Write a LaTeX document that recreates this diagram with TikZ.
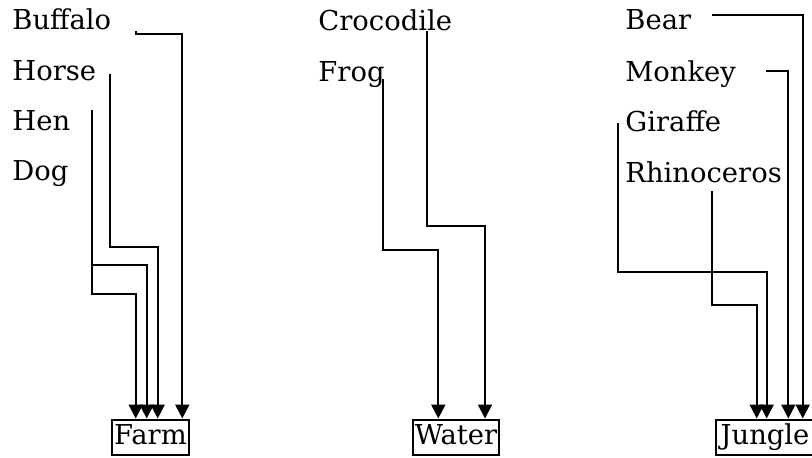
\documentclass[tikz,border=0pt]{standalone}
\usepackage{fontspec}
\setmainfont{DejaVu Serif}
\usetikzlibrary{arrows.meta}

\tikzset{
	animal/.style={anchor=base west, inner sep=0pt, font=\fontsize{13.7}{15}\selectfont},
	habitat/.style={draw, line width=1pt, inner xsep=1pt, inner ysep=0pt, minimum height=17.5pt, text height=10.2pt, text depth=3.1pt, font=\fontsize{13.7}{15}\selectfont},
	link/.style={line width=1pt, -{Triangle[width=7pt,length=7pt]}}
}

\begin{document}
\begin{tikzpicture}[x=0.5pt,y=-0.5pt]
	\useasboundingbox (0,0) rectangle (812,457);
	
	% animals
	\node[animal] (buffalo) at (12,29) {Buffalo};
	\node[animal] (horse) at (12,80) {Horse};
	\node[animal] (hen) at (12,130) {Hen};
	\node[animal] (dog) at (12,180) {Dog};
	
	\node[animal] (crocodile) at (318,30) {Crocodile};
	\node[animal] (frog) at (318,81) {Frog};
	
	\node[animal] (bear) at (625,29) {Bear};
	\node[animal] (monkey) at (625,81) {Monkey};
	\node[animal] (giraffe) at (625,131) {Giraffe};
	\node[animal] (rhino) at (625,182) {Rhinoceros};
	
	% habitats
	\node[habitat] (farm) at (150.5,437) {Farm};
	\node[habitat] (water) at (456,437) {Water};
	\node[habitat, inner xsep=2.5pt] (jungle) at (765,437) {Jungle};
	
	% start points of the lines
	\coordinate (sbuffalo) at (136,31);
	\coordinate (shorse) at (110,74);
	\coordinate (shen) at (92,110);
	\coordinate (sdog) at (92,160);
	\coordinate (scroc) at (427.3,31);
	\coordinate (sfrog) at (382.5,79);
	\coordinate (sbear) at (711.7,15);
	\coordinate (smonkey) at (765.7,71);
	\coordinate (sgiraffe) at (618,123);
	\coordinate (srhino) at (711.7,191);
	
	% farm
	\draw[link] (sbuffalo) -- ++(0,3) -| ([xshift=15.9pt]farm.north);
	\draw[link] (shorse) -- ++(0,173) -| ([xshift=3.6pt]farm.north);
	\draw[link] (shen) -- ++(0,155) -| ([xshift=-1.9pt]farm.north);
	\draw[link] (sdog) -- ++(0,134) -| ([xshift=-7.4pt]farm.north);
	
	% water
	\draw[link] (scroc) -- ++(0,195) -| ([xshift=14.5pt]water.north);
	\draw[link] (sfrog) -- ++(0,171) -| ([xshift=-8.85pt]water.north);
	
	% jungle
	\draw[link] (sbear) -| ([xshift=18.85pt]jungle.north);
	\draw[link] (smonkey) -| ([xshift=11.65pt]jungle.north);
	\draw[link] (sgiraffe) -- ++(0,149) -| ([xshift=0.85pt]jungle.north);
	\draw[link] (srhino) -- ++(0,114) -| ([xshift=-4.15pt]jungle.north);
	
\end{tikzpicture}
\end{document}
